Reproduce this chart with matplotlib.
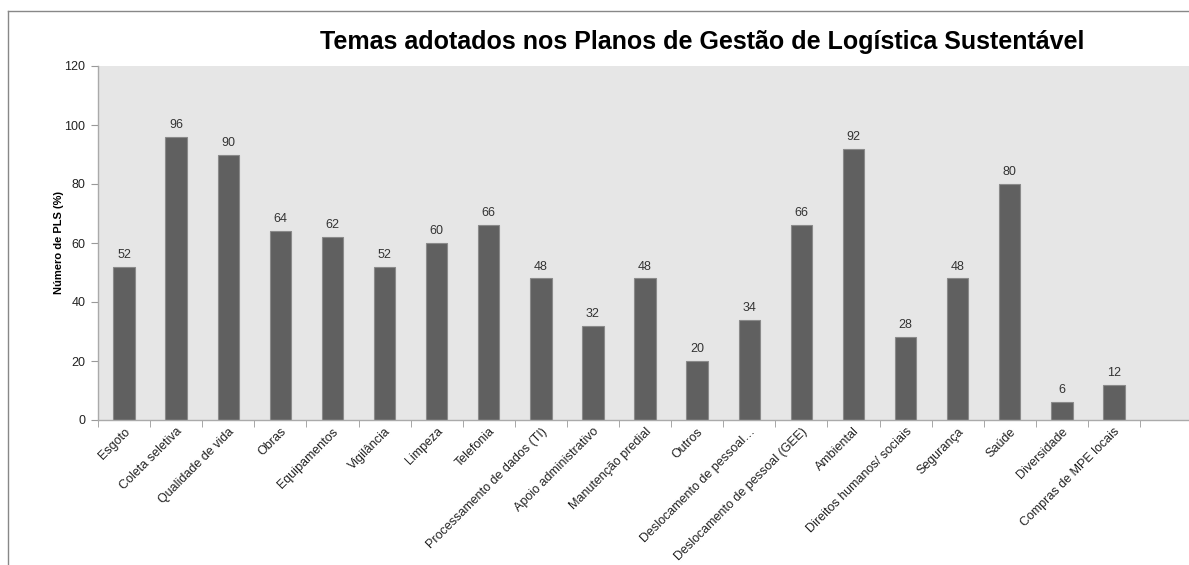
import numpy as np
import matplotlib.pyplot as plt
from matplotlib.lines import Line2D

plt.rcParams['font.family'] = ['Liberation Sans', 'DejaVu Sans']

# Data
temas = ["Esgoto", "Coleta seletiva", "Qualidade de vida", "Obras", "Equipamentos",
         "Vigilância", "Limpeza", "Telefonia", "Processamento de dados (TI)",
         "Apoio administrativo", "Manutenção predial", "Outros",
         "Deslocamento de pessoal…", "Deslocamento de pessoal (GEE)", "Ambiental",
         "Direitos humanos/ sociais", "Segurança", "Saúde", "Diversidade",
         "Compras de MPE locais"]
valores = [52, 96, 90, 64, 62, 52, 60, 66, 48, 32, 48, 20, 34, 66, 92, 28, 48, 80, 6, 12]
yticks = [0, 20, 40, 60, 80, 100, 120]

fig = plt.figure(figsize=(11.89, 5.65), dpi=100)
ax = fig.add_axes([98/1189, 1 - 420/565, 1 - 98/1189, (420 - 66)/565])
ax.set_facecolor('#e6e6e6')

x = np.arange(len(temas))
bars = ax.bar(x, valores, width=0.41, color='#606060', edgecolor='#8a8a8a', linewidth=0.8, zorder=2)
for xi, v in zip(x, valores):
    ax.text(xi, v + 2, str(v), ha='center', va='bottom', fontsize=9, color='#333333')

ax.set_xlim(-0.5, -0.5 + 1091/52.1)
ax.set_ylim(0, 120)
ax.set_yticks(yticks)
ax.tick_params(axis='y', direction='out', length=5, color='#999999', labelsize=9, labelcolor='#222222', pad=4)

ax.set_xticks(x)
ax.set_xticklabels(temas, rotation=45, ha='right', rotation_mode='anchor', fontsize=9, color='#222222')
ax.tick_params(axis='x', which='major', length=0, pad=4)
ax.set_xticks(np.arange(-0.5, len(temas)), minor=True)
ax.tick_params(axis='x', which='minor', direction='out', length=5, color='#999999')

for s in ['top', 'right']:
    ax.spines[s].set_visible(False)
for s in ['left', 'bottom']:
    ax.spines[s].set_color('#aaaaaa')
    ax.spines[s].set_linewidth(1.0)

ax.set_ylabel("Número de PLS (%)", fontsize=8, fontweight='bold', labelpad=0)

fig.text(702/1189, 1 - 42/565, "Temas adotados nos Planos de Gestão de Logística Sustentável",
         ha='center', va='center', fontsize=18, fontweight='bold')

# outer frame (cropped image: only top and left visible)
fig.add_artist(Line2D([8/1189, 1], [1 - 11/565, 1 - 11/565], transform=fig.transFigure, color='#888888', lw=1))
fig.add_artist(Line2D([8/1189, 8/1189], [0, 1 - 11/565], transform=fig.transFigure, color='#888888', lw=1))

plt.savefig("out.png", dpi=100)
plt.close()
